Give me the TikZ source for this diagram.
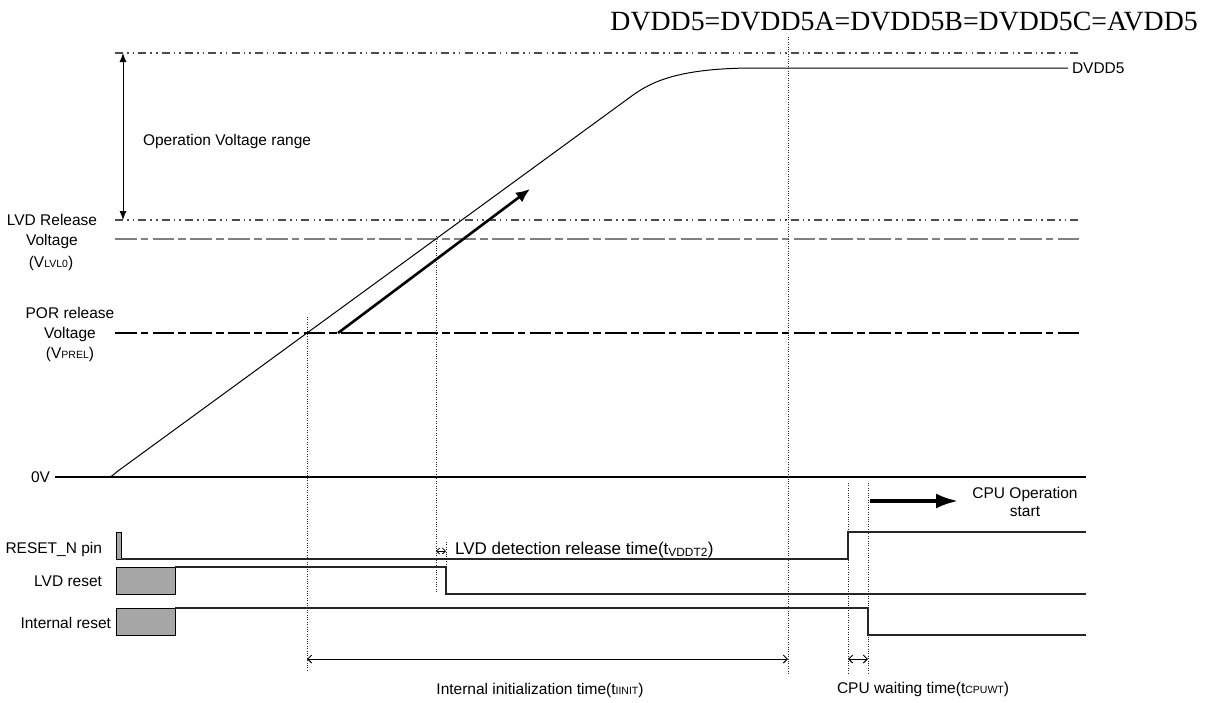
\documentclass[tikz,border=0pt]{standalone}
\usepackage{fontspec}
\setmainfont{Liberation Sans}
\newfontfamily\titlefont{Liberation Serif}
\usetikzlibrary{arrows.meta}
\newcommand\smsub[1]{{\fontsize{10.5}{12}\selectfont #1}}
\tikzset{
  lbl/.style={font=\fontsize{15.5}{18}\selectfont, inner sep=0pt, outer sep=0pt},
  sig/.style={line width=1.1pt, draw=black!85},
  vguide/.style={line width=0.9pt, draw=black!85, dash pattern=on 1pt off 1.4pt},
  ddot/.style={line width=1.1pt, draw=black!70, dash pattern=on 8pt off 4.1pt on 1.5pt off 4.1pt on 1.5pt off 4.1pt},
  lshort/.style={line width=1.1pt, dash pattern=on 21.7pt off 4pt on 7.7pt off 4.3pt},
  rstbox/.style={fill=black!35, draw=black, line width=0.9pt},
  thinarr/.style={line width=0.9pt, {Straight Barb[length=4pt,width=8pt]}-{Straight Barb[length=4pt,width=8pt]}},
}
\begin{document}
\begin{tikzpicture}[x=1pt,y=-1pt]
\useasboundingbox (0,0) rectangle (1219,702);

% title
\node[font=\titlefont\fontsize{27.8}{30}\selectfont, inner sep=0pt, anchor=base east] (title) at (1198,30) {DVDD5=DVDD5A=DVDD5B=DVDD5C=AVDD5};

% reference level lines
\draw[ddot] (115,53) -- (1080,53);
\draw[ddot] (115,220) -- (1080,220);
\draw[lshort, draw=black!50, line width=1.6pt] (115,239) -- (1080,239);
\draw[lshort, draw=black] (115,333) -- (1080,333);
\draw[sig, draw=black] (55,477) -- (1086,477);

% operation voltage range
\coordinate (opTop) at (123,53);
\coordinate (opBot) at (123,220);
\draw[line width=1pt, {Latex[length=9pt,width=7pt]}-{Latex[length=9pt,width=7pt]}] (opTop) -- (opBot);
\node[lbl, anchor=base west] (oprange) at (143,145.5) {Operation Voltage range};

% left labels
\node[lbl, anchor=base] (lvd1) at (52,225.5) {LVD Release};
\node[lbl, anchor=base] (lvd2) at (52,245) {Voltage};
\node[lbl, anchor=base] (lvd3) at (51,267) {(V\smsub{LVL0})};
\node[lbl, anchor=base] (por1) at (70,318.5) {POR release};
\node[lbl, anchor=base] (por2) at (70,338.5) {Voltage};
\node[lbl, anchor=base] (por3) at (70,358) {(V\smsub{PREL})};
\node[lbl, anchor=base east] (zero) at (50,482.5) {0V};
\node[lbl, anchor=base east] (rstn) at (102,553.5) {RESET\_N pin};
\node[lbl, anchor=base east] (lvdr) at (102,586.5) {LVD reset};
\node[lbl, anchor=base east] (intr) at (111,628.5) {Internal reset};

% DVDD5 curve
\draw[line width=1pt] (107,477) .. controls (111,477) .. (117,471.7) -- (632,95.8)
   .. controls (652,81.2) and (680,68) .. (755,68) -- (1068,68);
\node[lbl, anchor=base west] (dvdd) at (1072,73.5) {DVDD5};

% rising arrow
\coordinate (riseA) at (338,333);
\coordinate (riseB) at (530,189);
\draw[line width=2.6pt, -{Latex[length=14pt,width=12pt]}] (riseA) -- (riseB);

% vertical guides
\draw[vguide] (307,317) -- (307,672);
\draw[vguide] (436,236) -- (436,593);
\draw[vguide] (446,542) -- (446,567);
\draw[vguide] (788,37) -- (788,675);
\draw[vguide] (848,483) -- (848,673);
\draw[vguide] (868,483) -- (868,673);

% reset boxes
\draw[rstbox] (116,532) rectangle (121,559);
\draw[rstbox] (116,567) rectangle (175,594);
\draw[rstbox] (116,608) rectangle (175,635);

% signals
\draw[sig] (121,559) -- (848,559) -- (848,532) -- (1086,532);
\draw[sig] (175,567) -- (446,567) -- (446,594) -- (1086,594);
\draw[sig] (175,608) -- (868,608) -- (868,635) -- (1086,635);

% LVD detection release time
\coordinate (ldA) at (436,551);
\coordinate (ldB) at (446,551);
\draw[line width=0.8pt, {Straight Barb[length=3pt,width=6pt]}-{Straight Barb[length=3pt,width=6pt]}] (ldA) -- (ldB);
\node[font=\fontsize{17}{20}\selectfont, inner sep=0pt, anchor=base west] (ldlbl) at (455,554) {LVD detection release time(t\textsubscript{VDDT2})};

% CPU operation start
\coordinate (cpuA) at (870,501);
\coordinate (cpuB) at (958,501);
\draw[line width=3.3pt, -{Latex[length=22pt,width=15pt]}] (cpuA) -- (cpuB);
\node[lbl, anchor=base] (cpu1) at (1025,498) {CPU Operation};
\node[lbl, anchor=base] (cpu2) at (1025,516) {start};

% timing arrows
\coordinate (initA) at (307,659);
\coordinate (initB) at (788,659);
\draw[thinarr] (initA) -- (initB);
\node[lbl, anchor=base] (initlbl) at (540,694) {Internal initialization time(t\smsub{IINIT})};
\coordinate (waitA) at (848,659);
\coordinate (waitB) at (868,659);
\draw[thinarr] (waitA) -- (waitB);
\node[lbl, anchor=base] (waitlbl) at (923,693) {CPU waiting time(t\smsub{CPUWT})};
\end{tikzpicture}
\end{document}
